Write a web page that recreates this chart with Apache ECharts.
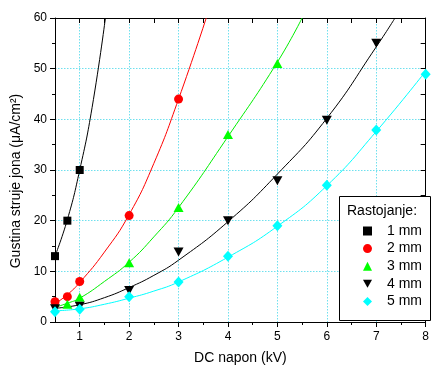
<!DOCTYPE html>
<html>
<head>
<meta charset="utf-8">
<script src="https://cdn.jsdelivr.net/npm/echarts@6/dist/echarts.min.js"></script>
<style>
html, body { margin: 0; padding: 0; background: #fff; }
#chart { width: 432px; height: 370px; }
</style>
</head>
<body>
<div id="chart"></div>
<script>
// Measured ion current density vs. DC voltage, per electrode spacing
const seriesNames = ['1 mm', '2 mm', '3 mm', '4 mm', '5 mm'];

const x1mm = [0.5, 0.75, 1];
const y1mm = [13, 20, 30];
const x2mm = [0.5, 0.75, 1, 2, 3];
const y2mm = [4.0, 5.0, 8.0, 21, 44];
const x3mm = [0.75, 1, 2, 3, 4, 5];
const y3mm = [3.5, 4.9, 11.7, 22.6, 37, 51];
const x4mm = [0.5, 1, 2, 3, 4, 5, 6, 7];
const y4mm = [2.6, 3.1, 6.2, 13.8, 20, 27.9, 39.8, 55];
const x5mm = [0.5, 1, 2, 3, 4, 5, 6, 7, 8];
const y5mm = [2.0, 2.5, 5.0, 7.9, 13.0, 19.0, 27.0, 37.9, 48.9];

// Fitted trend curves (voltage, density)
const fit1mm = [[0.5, 13], [0.75, 20.2], [1, 30], [1.25, 42.3], [1.52, 60]];
const fit2mm = [[0.5, 3.6], [0.75, 5.4], [1, 7.8], [1.5, 13.8], [2, 21.2], [2.5, 31.3], [3, 44], [3.56, 60]];
const fit3mm = [[0.5, 2.9], [0.75, 3.7], [1, 4.7], [1.5, 8.0], [2, 11.8], [2.5, 16.8], [3, 22.6], [4, 36.6], [5, 51.3], [5.5, 60]];
const fit4mm = [[0.5, 2.7], [1, 3.4], [1.5, 4.8], [2, 6.8], [2.5, 9.2], [3, 12.2], [4, 19.8], [5, 29.2], [6, 40.2], [7, 54.3], [7.38, 60]];
const fit5mm = [[0.5, 2.2], [1, 2.6], [1.5, 3.5], [2, 4.7], [2.5, 6.1], [3, 7.9], [4, 12.8], [5, 18.9], [6, 26.9], [7, 37.6], [8, 49.5]];

const xMajor = [1, 2, 3, 4, 5, 6, 7, 8];
const xMinor = [1.5, 2.5, 3.5, 4.5, 5.5, 6.5, 7.5];
const yMajor = [0, 10, 20, 30, 40, 50, 60];
const yMinor = [5, 15, 25, 35, 45, 55];
const yAll = [5, 10, 15, 20, 25, 30, 35, 40, 45, 50, 55];

const FONT = 'Liberation Sans, Arial, sans-serif';
const gridColor = '#6fe0ee';

const zip = (xs, ys) => xs.map((x, i) => [x, ys[i]]);

const chart = echarts.init(document.getElementById('chart'), null, { renderer: 'canvas' });

const xBase = { type: 'value', min: 0.5, max: 8, interval: 0.5, gridIndex: 0 };
const yBase = { type: 'value', min: 0, max: 60, interval: 5, gridIndex: 0 };

function fitLine(name, data, color) {
  return {
    name: name, type: 'line', data: data, smooth: true, showSymbol: false,
    lineStyle: { color: color, width: 1 }, itemStyle: { color: color },
    clip: true, z: 2, silent: true, animation: false
  };
}
function points(name, data, color, symbol, size) {
  return {
    name: name, type: 'scatter', data: data, symbol: symbol, symbolSize: size,
    itemStyle: { color: color, opacity: 1 }, z: 5, animation: false
  };
}

chart.setOption({
  animation: false,
  textStyle: { fontFamily: FONT },
  grid: { left: 55, right: 2, top: 18, bottom: 44, containLabel: false },
  xAxis: [
    Object.assign({}, xBase, {
      position: 'bottom',
      name: 'DC napon (kV)', nameLocation: 'middle', nameGap: 29,
      nameTextStyle: { fontSize: 14, color: '#000', fontFamily: FONT },
      axisLine: { show: true, onZero: false, lineStyle: { color: '#000', width: 1 } },
      axisTick: { show: true, inside: false, length: 5, customValues: xMajor, lineStyle: { color: '#000' } },
      axisLabel: { show: true, customValues: xMajor, margin: 9, fontSize: 12, color: '#000', fontFamily: FONT },
      splitLine: { show: true, lineStyle: { color: gridColor, type: [1.5, 1.5], width: 1 } }
    }),
    Object.assign({}, xBase, {
      position: 'bottom',
      axisLine: { show: false },
      axisTick: { show: true, inside: false, length: 3, customValues: xMinor, lineStyle: { color: '#000' } },
      axisLabel: { show: false },
      splitLine: { show: false }
    }),
    Object.assign({}, xBase, {
      position: 'top',
      axisLine: { show: true, onZero: false, lineStyle: { color: '#000', width: 1 } },
      axisTick: { show: true, inside: true, length: 5, customValues: xMajor.concat(xMinor), lineStyle: { color: '#000' } },
      axisLabel: { show: false },
      splitLine: { show: false }
    })
  ],
  yAxis: [
    Object.assign({}, yBase, {
      position: 'left',
      name: 'Gustina struje jona (\u03bcA/cm\u00b2)', nameLocation: 'middle', nameGap: 29,
      nameTextStyle: { fontSize: 14, color: '#000', fontFamily: FONT, padding: [0, 22, 0, 0] },
      axisLine: { show: true, onZero: false, lineStyle: { color: '#000', width: 1 } },
      axisTick: { show: true, inside: false, length: 5, customValues: yMajor, lineStyle: { color: '#000' } },
      axisLabel: { show: true, customValues: yMajor, margin: 8, fontSize: 12, color: '#000', fontFamily: FONT },
      splitLine: { show: true, lineStyle: { color: gridColor, type: [1.5, 1.5], width: 1 } }
    }),
    Object.assign({}, yBase, {
      position: 'left',
      axisLine: { show: false },
      axisTick: { show: true, inside: false, length: 3, customValues: yMinor, lineStyle: { color: '#000' } },
      axisLabel: { show: false },
      splitLine: { show: false }
    }),
    Object.assign({}, yBase, {
      position: 'right',
      axisLine: { show: true, onZero: false, lineStyle: { color: '#000', width: 1 } },
      axisTick: { show: true, inside: true, length: 5, customValues: yAll, lineStyle: { color: '#000' } },
      axisLabel: { show: false },
      splitLine: { show: false }
    })
  ],
  legend: {
    orient: 'vertical', left: 358, top: 219,
    itemWidth: 9, itemHeight: 9, itemGap: 3.6,
    data: [
      { name: '1 mm', itemStyle: { borderWidth: 0 } },
      '2 mm', '3 mm', '4 mm', '5 mm'
    ],
    textStyle: { fontSize: 14, color: '#000', fontFamily: FONT, lineHeight: 14, padding: [0, 0, 0, 10] },
    selectedMode: false, z: 20
  },
  graphic: [
    {
      type: 'rect', z: 15,
      shape: { x: 339.5, y: 196.5, width: 91, height: 124 },
      style: { fill: '#fff', stroke: '#000', lineWidth: 1 }
    },
    {
      type: 'text', z: 20, left: 347, top: 204,
      style: { text: 'Rastojanje:', font: '14px ' + FONT, fill: '#000' }
    }
  ],
  series: [
    fitLine('fit 1 mm', fit1mm, '#000000'),
    fitLine('fit 2 mm', fit2mm, '#ff0000'),
    fitLine('fit 3 mm', fit3mm, '#00ee00'),
    fitLine('fit 4 mm', fit4mm, '#000000'),
    fitLine('fit 5 mm', fit5mm, '#00ffff'),
    points('1 mm', zip(x1mm, y1mm), '#000000', 'rect', 8),
    points('2 mm', zip(x2mm, y2mm), '#ff0000', 'circle', 9),
    points('3 mm', zip(x3mm, y3mm), '#00ff00', 'triangle', [10, 9]),
    points('4 mm', zip(x4mm, y4mm), '#000000', 'path://M0,0L10,0L5,9Z', [10, 9]),
    points('5 mm', zip(x5mm, y5mm), '#00ffff', 'diamond', [10, 11])
  ]
});
</script>
</body>
</html>
